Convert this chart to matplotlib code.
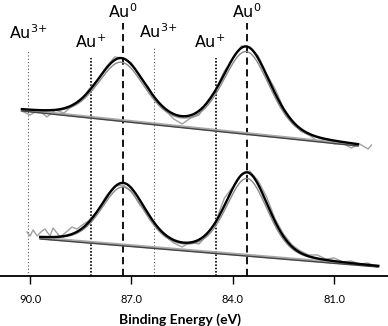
import numpy as np
import matplotlib.pyplot as plt

# binding energies of the reference lines (eV)
ref_energy = [90.05, 88.2, 87.25, 86.33, 84.5, 83.58]
ref_label = ['Au$^{3{+}}$', 'Au$^{+}$', 'Au$^{0}$', 'Au$^{3{+}}$', 'Au$^{+}$', 'Au$^{0}$']
ref_kind = ['3+', '+', '0', '3+', '+', '0']
ref_top = [226, 218, 253, 229, 218, 253]
label_y = [243, 234, 264, 244, 234, 264]
label_x = [90.05, 88.2, 87.25, 86.2, 84.7, 83.58]

# upper spectrum, raw counts (a.u.)
up_e = [90.25, 90.0, 89.75, 89.5, 89.25, 89.0, 88.75, 88.5, 88.25, 88.0, 87.75,
        87.5, 87.25, 87.0, 86.75, 86.5, 86.25, 86.0, 85.75, 85.5, 85.25, 85.0,
        84.75, 84.5, 84.25, 84.0, 83.75, 83.5, 83.25, 83.0, 82.75, 82.5, 82.25,
        82.0, 81.75, 81.5, 81.25, 81.0, 80.75, 80.5, 80.25, 80.0, 79.9]
up_raw = [165, 161, 166, 159, 166, 163, 170, 175, 187, 196, 209,
          219, 218, 213, 199, 189, 174, 166, 157, 152, 158, 161,
          175, 187, 205, 217, 230, 229, 220, 202, 187, 168, 156,
          145, 141, 135, 137, 132, 133, 128, 132, 127, 131]

# lower spectrum, raw counts (a.u.)
lo_e = [90.09, 90.0, 89.91, 89.79, 89.68, 89.56, 89.41, 89.32, 89.11, 88.93,
        88.76, 88.61, 88.46, 88.28, 88.0, 87.75, 87.5, 87.25, 87.0, 86.75,
        86.5, 86.25, 86.0, 85.75, 85.5, 85.25, 85.0, 84.75, 84.5, 84.25, 84.0,
        83.75, 83.5, 83.25, 83.0, 82.75, 82.5, 82.25, 82.0, 81.75, 81.5, 81.25,
        81.0, 80.75, 80.5, 80.25, 80.0, 79.75]
lo_raw = [44, 40, 46, 40, 44, 47, 40, 48, 39, 44,
          49, 47, 51, 55, 65, 80, 90, 91, 85, 71,
          63, 49, 40, 33, 29, 34, 32, 42, 55, 78, 89,
          101, 105, 95, 79, 57, 42, 31, 25, 21, 21, 17,
          18, 14, 15, 12, 13, 9]

# fit parameters: fit range, baseline end points, peak centre / height / sigma
up_range = [90.24, 80.3]
up_base = [165, 130]
up_cen = [87.3, 83.6]
up_amp = [62, 87]
up_comp = [58, 82]
up_sig = [0.72, 0.72]

lo_range = [89.7, 79.7]
lo_base = [37, 9]
lo_cen = [87.25, 83.58]
lo_amp = [62, 83]
lo_comp = [58, 77]
lo_sig = [0.66, 0.64]

eta = 0.3  # lorentzian fraction of the pseudo-voigt


def pvoigt(e, c, a, s):
    g = np.exp(-0.5 * ((e - c) / s) ** 2)
    lz = 1 / (1 + ((e - c) / (1.1774 * s)) ** 2)
    return a * ((1 - eta) * g + eta * lz)


fig = plt.figure(figsize=(3.88, 3.26), dpi=100)
ax = fig.add_axes([0, 50 / 326, 1, 276 / 326])

# reference lines
styles = {'3+': dict(color='#555555', lw=0.8, ls=(0, (1, 2))),
          '+': dict(color='black', lw=1.2, ls=(0, (1, 1))),
          '0': dict(color='black', lw=1.3, ls=(0, (4, 2.5)))}
for e, top, kind in zip(ref_energy, ref_top, ref_kind):
    ax.plot([e, e], [0, top], **styles[kind], zorder=1)
for x, y, lab in zip(label_x, label_y, ref_label):
    ax.text(x, y, lab, ha='center', va='center', fontsize=11.5, family='DejaVu Sans')

# spectra
for e_raw, raw, rng, base, cen, amp, comp, sig in [
        (up_e, up_raw, up_range, up_base, up_cen, up_amp, up_comp, up_sig),
        (lo_e, lo_raw, lo_range, lo_base, lo_cen, lo_amp, lo_comp, lo_sig)]:
    e = np.linspace(rng[0], rng[1], 400)
    bl = np.interp(e, rng[::-1], base[::-1])
    env = bl + sum(pvoigt(e, c, a, s) for c, a, s in zip(cen, amp, sig))
    cmp_ = bl + sum(pvoigt(e, c, a, s * 0.97) for c, a, s in zip(cen, comp, sig))
    ax.plot(e_raw, raw, color='#a0a0a0', lw=1.0, zorder=2)
    ax.plot(e, bl + 1, color='#a8a8a8', lw=2.0, zorder=2)
    ax.plot(e, bl, color='#444444', lw=1.0, zorder=3)
    ax.plot(e, cmp_, color='#8a8a8a', lw=1.0, zorder=3)
    ax.plot(e, env, color='black', lw=1.7, zorder=4)

ax.set_xlim(90.89, 79.41)
ax.set_ylim(0, 276)
ax.set_yticks([])
ax.set_xticks([90, 87, 84, 81])
ax.set_xticklabels(['90.0', '87.0', '84.0', '81.0'], family='Lato', fontsize=8)
ax.tick_params(axis='x', direction='out', length=6, width=1, pad=7)
for s in ['top', 'left', 'right']:
    ax.spines[s].set_visible(False)
ax.spines['bottom'].set_linewidth(1.3)
ax.set_xlabel('Binding Energy (eV)', family='Lato', fontweight='bold', fontsize=10)
ax.xaxis.set_label_coords(180 / 388, -37 / 276)

fig.savefig('out.png', dpi=100)
